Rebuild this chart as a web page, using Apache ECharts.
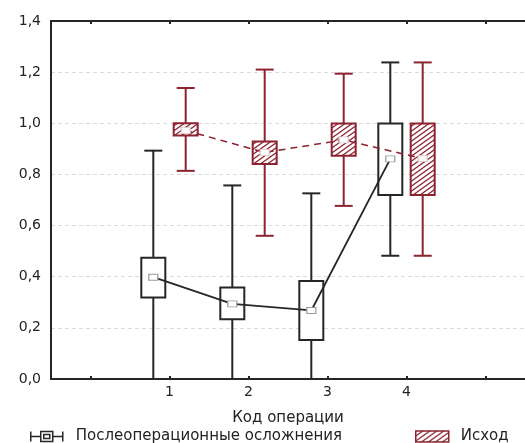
<!DOCTYPE html>
<html>
<head>
<meta charset="utf-8">
<script src="https://cdn.jsdelivr.net/npm/echarts@6/dist/echarts.min.js"></script>
<style>
  html, body { margin: 0; padding: 0; background: #fff; }
  #chart { width: 525px; height: 443px; }
</style>
</head>
<body>
<div id="chart"></div>
<script>
  // operation codes on the x axis
  const categories = [1, 2, 3, 4];

  // "Послеоперационные осложнения": mean, box (±SE), whiskers (±SD)
  const complMean = [0.398, 0.294, 0.268, 0.861];
  const complBoxLow = [0.319, 0.234, 0.153, 0.720];
  const complBoxHigh = [0.474, 0.358, 0.383, 0.999];
  const complWhiskLow = [-0.09, -0.17, -0.19, 0.482];
  const complWhiskHigh = [0.893, 0.757, 0.726, 1.238];

  // "Исход"
  const outMean = [0.972, 0.886, 0.935, 0.862];
  const outBoxLow = [0.952, 0.841, 0.873, 0.720];
  const outBoxHigh = [1.000, 0.929, 0.999, 0.999];
  const outWhiskLow = [0.814, 0.560, 0.677, 0.482];
  const outWhiskHigh = [1.138, 1.210, 1.194, 1.238];

  const yTicks = [0, 0.2, 0.4, 0.6, 0.8, 1.0, 1.2, 1.4];
  const xTicks = [0, 1, 2, 3, 4, 5];

  const names = ['Послеоперационные осложнения', 'Исход'];
  const black = '#262626', red = '#8c2330';
  const shift = 0.205;   // box offset from the category, in axis units
  const font = 'DejaVu Sans';

  // diagonal hatch tile
  function hatch() {
    let c = document.createElement('canvas');
    c.width = 7; c.height = 5;
    let ctx = c.getContext('2d');
    ctx.fillStyle = '#fff';
    ctx.fillRect(0, 0, 7, 5);
    ctx.strokeStyle = red;
    ctx.lineWidth = 1.3;
    ctx.beginPath();
    for (let o of [-7, 0, 7]) {
      ctx.moveTo(o - 1.4, 6);
      ctx.lineTo(o + 8.4, -1);
    }
    ctx.stroke();
    return c;
  }
  const hatchFill = { image: hatch(), repeat: 'repeat' };

  function boxData(off, wl, bl, m, bh, wh) {
    return categories.map((c, i) => [c + off, wl[i], bl[i], m[i], bh[i], wh[i]]);
  }

  function boxRender(color, fill) {
    return function (params, api) {
      let x = api.value(0);
      let low = api.value(1);
      let top = api.coord([x, api.value(5)]);
      let bh = api.coord([x, api.value(4)]);
      let bl = api.coord([x, api.value(2)]);
      let bot = api.coord([x, Math.max(low, 0)]);
      let hb = 12, hc = 9;
      let st = { stroke: color, lineWidth: 2 };
      let kids = [
        { type: 'line', shape: { x1: top[0], y1: top[1], x2: bh[0], y2: bh[1] }, style: st },
        { type: 'line', shape: { x1: bl[0], y1: bl[1], x2: bot[0], y2: bot[1] }, style: st },
        { type: 'line', shape: { x1: top[0] - hc, y1: top[1], x2: top[0] + hc, y2: top[1] }, style: st },
        { type: 'rect', shape: { x: bh[0] - hb, y: bh[1], width: hb * 2, height: bl[1] - bh[1] },
          style: { fill: fill, stroke: color, lineWidth: 2 } }
      ];
      if (low >= 0) {
        kids.push({ type: 'line', shape: { x1: bot[0] - hc, y1: bot[1], x2: bot[0] + hc, y2: bot[1] }, style: st });
      }
      return { type: 'group', children: kids };
    };
  }

  const myChart = echarts.init(document.getElementById('chart'));

  let axisFont = { fontFamily: font, fontSize: 14, color: '#222' };

  let option = {
    animation: false,
    grid: { left: 51, top: 21, width: 484, height: 358 },
    legend: [
      {
        left: 30, top: 429, padding: 0, selectedMode: false,
        itemWidth: 32, itemHeight: 10,
        textStyle: { fontFamily: font, fontSize: 15, color: '#222', padding: [0, 0, 0, 8] },
        data: [{
          name: names[0],
          icon: 'path://M0,0L0,10M0,5L10,5M10,0L22,0L22,10L10,10ZM22,5L32,5M32,0L32,10M13,3L19,3L19,7L13,7Z',
          itemStyle: { color: '#fff', borderColor: black, borderWidth: 1.5 }
        }]
      },
      {
        left: 415, top: 429, padding: 0, selectedMode: false,
        itemWidth: 33, itemHeight: 11,
        textStyle: { fontFamily: font, fontSize: 15, color: '#222', padding: [0, 0, 0, 7] },
        data: [{
          name: names[1], icon: 'rect',
          itemStyle: { color: hatchFill, borderColor: red, borderWidth: 1.5 }
        }]
      }
    ],
    xAxis: [
      {
        type: 'value', min: -0.5, max: 5.5,
        name: 'Код операции', nameLocation: 'middle', nameGap: 32,
        nameTextStyle: { fontFamily: font, fontSize: 15, color: '#222' },
        axisLine: { onZero: false, lineStyle: { color: black, width: 2 } },
        axisTick: { inside: true, length: 3, customValues: xTicks, lineStyle: { color: black, width: 2 } },
        axisLabel: { customValues: categories, margin: 6, ...axisFont },
        splitLine: { show: false }
      },
      {
        type: 'value', min: -0.5, max: 5.5, position: 'top',
        axisLine: { show: true, onZero: false, lineStyle: { color: black, width: 2 } },
        axisTick: { show: true, inside: true, length: 3, customValues: xTicks, lineStyle: { color: black, width: 2 } },
        axisLabel: { show: false },
        splitLine: { show: false }
      }
    ],
    yAxis: {
      type: 'value', min: 0, max: 1.4, interval: 0.2,
      axisLine: { show: true, onZero: false, lineStyle: { color: black, width: 2 } },
      axisTick: { show: false },
      axisLabel: {
        margin: 10, ...axisFont,
        customValues: yTicks,
        formatter: v => v.toFixed(1).replace('.', ',')
      },
      splitLine: { lineStyle: { color: '#dcdcdc', type: [4, 3], width: 1 } }
    },
    series: [
      {
        name: names[0], type: 'custom', z: 2,
        renderItem: boxRender(black, '#fff'),
        encode: { x: 0, y: [1, 2, 3, 4, 5] },
        data: boxData(-shift, complWhiskLow, complBoxLow, complMean, complBoxHigh, complWhiskHigh)
      },
      {
        name: names[1], type: 'custom', z: 2,
        renderItem: boxRender(red, hatchFill),
        encode: { x: 0, y: [1, 2, 3, 4, 5] },
        data: boxData(shift, outWhiskLow, outBoxLow, outMean, outBoxHigh, outWhiskHigh)
      },
      {
        name: names[0], type: 'line', z: 3, silent: true,
        data: categories.map((c, i) => [c - shift, complMean[i]]),
        symbol: 'rect', symbolSize: [9, 6],
        itemStyle: { color: '#fff', borderColor: '#9a9a9a', borderWidth: 1 },
        lineStyle: { color: black, width: 1.8 }
      },
      {
        name: names[1], type: 'line', z: 3, silent: true,
        data: categories.map((c, i) => [c + shift, outMean[i]]),
        symbol: 'rect', symbolSize: [9, 6],
        itemStyle: { color: '#fff', borderColor: '#d8c8c8', borderWidth: 1 },
        lineStyle: { color: red, width: 1.5, type: [7, 5] }
      }
    ]
  };

  myChart.setOption(option);
</script>
</body>
</html>
